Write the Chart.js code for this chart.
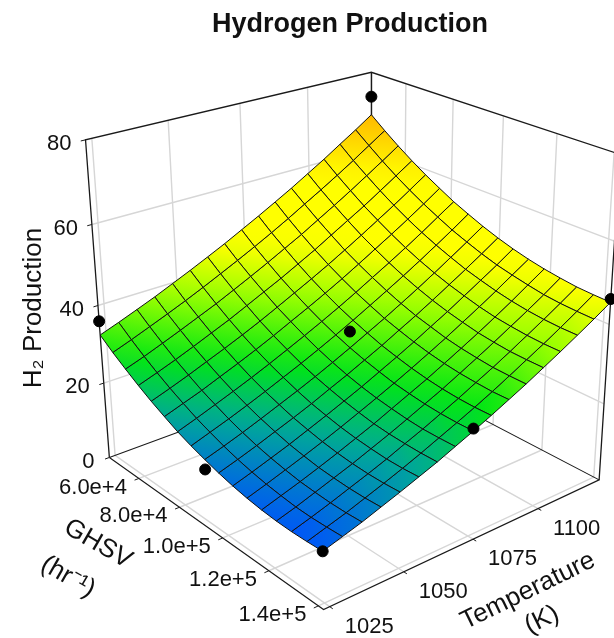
<!DOCTYPE html>
<html>
<head>
<meta charset="utf-8">
<title>Hydrogen Production</title>
<script src="https://cdn.jsdelivr.net/npm/chart.js@4"></script>
<style>
  body { margin: 0; background: #fff; overflow: hidden; }
  canvas { display: block; filter: blur(0.4px); }
</style>
</head>
<body>
<canvas id="surface" width="614" height="638"></canvas>
<script>
const tempTicks = [1025, 1050, 1075, 1100];
const ghsvTicks = [60000, 80000, 100000, 120000, 140000];
const ghsvLabels = ['6.0e+4', '8.0e+4', '1.0e+5', '1.2e+5', '1.4e+5'];
const zTicks = [0, 20, 40, 60, 80];
const tempRange = [1023, 1125];
const ghsvRange = [44600, 142000];
const zRange = [0, 80];

// surface: one row per temperature, one column per GHSV
const meshTemp = [1023, 1029.4, 1035.8, 1042.1, 1048.5, 1054.9, 1061.3, 1067.6, 1074, 1080.4, 1086.8, 1093.1, 1099.5, 1105.9, 1112.3, 1118.6, 1125];
const meshGhsv = [44600, 50700, 56800, 62900, 68950, 75050, 81100, 87200, 93300, 99400, 105500, 111550, 117650, 123700, 129800, 135900, 142000];
const meshZ = [
  [32.5, 29.9, 27.6, 25.4, 23.4, 21.6, 19.9, 18.5, 17.3, 16.2, 15.3, 14.6, 14.1, 13.8, 13.7, 13.8, 14.0],
  [34.2, 31.6, 29.2, 27.0, 25.0, 23.2, 21.5, 20.1, 18.8, 17.7, 16.8, 16.1, 15.6, 15.2, 15.1, 15.2, 15.4],
  [36.0, 33.4, 31.0, 28.7, 26.7, 24.8, 23.2, 21.7, 20.4, 19.3, 18.4, 17.7, 17.1, 16.8, 16.6, 16.6, 16.8],
  [37.8, 35.2, 32.8, 30.5, 28.5, 26.6, 24.9, 23.4, 22.1, 21.0, 20.0, 19.3, 18.7, 18.4, 18.2, 18.2, 18.4],
  [39.8, 37.1, 34.7, 32.4, 30.3, 28.4, 26.7, 25.2, 23.9, 22.7, 21.8, 21.0, 20.4, 20.0, 19.8, 19.8, 20.0],
  [41.8, 39.1, 36.6, 34.3, 32.2, 30.3, 28.6, 27.1, 25.7, 24.5, 23.6, 22.8, 22.2, 21.8, 21.5, 21.5, 21.7],
  [43.9, 41.2, 38.7, 36.4, 34.2, 32.3, 30.6, 29.0, 27.6, 26.5, 25.5, 24.7, 24.0, 23.6, 23.4, 23.3, 23.4],
  [46.0, 43.3, 40.8, 38.5, 36.3, 34.4, 32.6, 31.0, 29.6, 28.4, 27.4, 26.6, 26.0, 25.5, 25.2, 25.2, 25.3],
  [48.3, 45.5, 43.0, 40.6, 38.5, 36.5, 34.7, 33.1, 31.7, 30.5, 29.5, 28.6, 28.0, 27.5, 27.2, 27.1, 27.2],
  [50.6, 47.8, 45.3, 42.9, 40.7, 38.7, 36.9, 35.3, 33.9, 32.6, 31.6, 30.7, 30.0, 29.5, 29.2, 29.1, 29.2],
  [53.0, 50.2, 47.6, 45.2, 43.0, 41.0, 39.2, 37.6, 36.1, 34.9, 33.8, 32.9, 32.2, 31.7, 31.4, 31.2, 31.3],
  [55.4, 52.7, 50.1, 47.7, 45.4, 43.4, 41.6, 39.9, 38.4, 37.1, 36.1, 35.1, 34.4, 33.9, 33.5, 33.4, 33.4],
  [58.0, 55.2, 52.6, 50.2, 47.9, 45.9, 44.0, 42.3, 40.8, 39.5, 38.4, 37.5, 36.7, 36.2, 35.8, 35.7, 35.7],
  [60.6, 57.8, 55.2, 52.7, 50.5, 48.4, 46.5, 44.8, 43.3, 42.0, 40.9, 39.9, 39.1, 38.6, 38.2, 38.0, 38.0],
  [63.4, 60.5, 57.9, 55.4, 53.1, 51.0, 49.1, 47.4, 45.9, 44.5, 43.4, 42.4, 41.6, 41.0, 40.6, 40.4, 40.4],
  [66.1, 63.3, 60.6, 58.1, 55.8, 53.7, 51.8, 50.0, 48.5, 47.1, 45.9, 45.0, 44.2, 43.5, 43.1, 42.9, 42.8],
  [69.0, 66.1, 63.4, 60.9, 58.6, 56.5, 54.5, 52.8, 51.2, 49.8, 48.6, 47.6, 46.8, 46.2, 45.7, 45.5, 45.4]
];

const dotTemp = [1023, 1125, 1125, 1074, 1023, 1023, 1074];
const dotGhsv = [44600, 44600, 142000, 93300, 142000, 93300, 142000];
const dotZ = [36, 73.7, 46.2, 35.8, 14, 14.8, 27.8];

const colorZ = [13, 22, 29, 38, 46, 58, 69];
const colorRGB = [[0, 80, 255], [0, 170, 150], [0, 230, 20], [150, 255, 0], [255, 255, 0], [255, 255, 0], [255, 185, 0]];

// picture position of the box corners, used to fit the camera
const cornerBox = [[0,0,0],[0,0,1],[1,0,0],[1,0,1],[1,1,0],[1,1,1],[0,1,0]];
const cornerPx = [[108,459],[85,143],[376,366],[376,72],[604,485],[626,154],[329,617]];

function solve(A, b) {
  const n = b.length;
  for (let i = 0; i < n; i++) {
    let m = i;
    for (let r = i + 1; r < n; r++) if (Math.abs(A[r][i]) > Math.abs(A[m][i])) m = r;
    [A[i], A[m]] = [A[m], A[i]];
    [b[i], b[m]] = [b[m], b[i]];
    for (let r = i + 1; r < n; r++) {
      const f = A[r][i] / A[i][i];
      for (let c = i; c < n; c++) A[r][c] -= f * A[i][c];
      b[r] -= f * b[i];
    }
  }
  const x = new Array(n).fill(0);
  for (let i = n - 1; i >= 0; i--) {
    let s = b[i];
    for (let c = i + 1; c < n; c++) s -= A[i][c] * x[c];
    x[i] = s / A[i][i];
  }
  return x;
}

function fitCamera() {
  const rows = [], rhs = [];
  cornerBox.forEach((c, k) => {
    const [x, y] = cornerPx[k];
    rows.push([c[0], c[1], c[2], 1, 0, 0, 0, 0, -x * c[0], -x * c[1], -x * c[2]]);
    rhs.push(x);
    rows.push([0, 0, 0, 0, c[0], c[1], c[2], 1, -y * c[0], -y * c[1], -y * c[2]]);
    rhs.push(y);
  });
  const A = [], b = [];
  for (let i = 0; i < 11; i++) {
    A.push([]);
    for (let j = 0; j < 11; j++) A[i].push(rows.reduce((s, r) => s + r[i] * r[j], 0));
    b.push(rows.reduce((s, r, k) => s + r[i] * rhs[k], 0));
  }
  return solve(A, b);
}

const cam = fitCamera();

function project(t, g, z) {
  const a = (t - tempRange[0]) / (tempRange[1] - tempRange[0]);
  const b = (g - ghsvRange[0]) / (ghsvRange[1] - ghsvRange[0]);
  const c = (z - zRange[0]) / (zRange[1] - zRange[0]);
  const w = cam[8] * a + cam[9] * b + cam[10] * c + 1;
  return {
    x: (cam[0] * a + cam[1] * b + cam[2] * c + cam[3]) / w,
    y: (cam[4] * a + cam[5] * b + cam[6] * c + cam[7]) / w
  };
}

function zColor(z) {
  let k = 0;
  while (k < colorZ.length - 2 && z > colorZ[k + 1]) k++;
  const f = Math.min(1, Math.max(0, (z - colorZ[k]) / (colorZ[k + 1] - colorZ[k])));
  const c = colorRGB[k].map((v, n) => Math.round(v + (colorRGB[k + 1][n] - v) * f));
  return `rgb(${c[0]},${c[1]},${c[2]})`;
}

function lineSet(points, color, width, order) {
  return { data: points, showLine: true, fill: false, borderColor: color, borderWidth: width,
           pointRadius: 0, tension: 0, clip: false, order: order };
}

const datasets = [];
const [t0, t1] = tempRange, [g0, g1] = ghsvRange;
const gridGrey = '#d6d6d6', boxBlack = '#1a1a1a';

// wall and floor grid lines
tempTicks.forEach(t => {
  datasets.push(lineSet([project(t, g1, 0), project(t, g0, 0), project(t, g0, 80)], gridGrey, 1.4, 3000));
});
ghsvTicks.forEach(g => {
  datasets.push(lineSet([project(t0, g, 0), project(t1, g, 0), project(t1, g, 80)], gridGrey, 1.4, 3000));
});
zTicks.slice(1, 4).forEach(z => {
  datasets.push(lineSet([project(t0, g0, z), project(t1, g0, z), project(t1, g1, z)], gridGrey, 1.4, 3000));
});

// box outline
datasets.push(lineSet([project(t0, g0, 0), project(t0, g0, 80), project(t1, g0, 80), project(t1, g1, 80), project(t1, g1, 0)], boxBlack, 1.3, 2000));
datasets.push(lineSet([project(t1, g0, 80), project(t1, g0, 0)], boxBlack, 1.3, 2000));
datasets.push(lineSet([project(t0, g0, 0), project(t1, g0, 0), project(t1, g1, 0), project(t0, g1, 0), project(t0, g0, 0)], boxBlack, 1.1, 2000));

// tick marks
zTicks.forEach(z => datasets.push(lineSet([project(t0, g0, z), project(t0 - 1.5, g0, z)], boxBlack, 1, 2000)));
ghsvTicks.forEach(g => datasets.push(lineSet([project(t0, g, 0), project(t0 - 1.5, g, 0)], boxBlack, 1, 2000)));
tempTicks.forEach(t => datasets.push(lineSet([project(t, g1, 0), project(t, g1 + 1200, 0)], boxBlack, 1, 2000)));

// surface cells
for (let i = 0; i < meshTemp.length - 1; i++) {
  for (let j = 0; j < meshGhsv.length - 1; j++) {
    const corners = [[i, j], [i + 1, j], [i + 1, j + 1], [i, j + 1], [i, j]];
    const zs = corners.slice(0, 4).map(c => meshZ[c[0]][c[1]]);
    const pts = corners.map(c => project(meshTemp[c[0]], meshGhsv[c[1]], meshZ[c[0]][c[1]]));
    const lo = zs.indexOf(Math.min(...zs)), hi = zs.indexOf(Math.max(...zs));
    datasets.push({
      data: pts, showLine: true, fill: 'shape', borderColor: '#111', borderWidth: 1,
      pointRadius: 0, tension: 0, clip: false, order: 1000,
      backgroundColor: ctx => {
        const g = ctx.chart.ctx.createLinearGradient(pts[lo].x, pts[lo].y, pts[hi].x, pts[hi].y);
        g.addColorStop(0, zColor(zs[lo]));
        g.addColorStop(1, zColor(zs[hi]));
        return g;
      }
    });
  }
}

// design points
datasets.push({
  data: dotTemp.map((t, k) => project(t, dotGhsv[k], dotZ[k])),
  showLine: false, pointRadius: 5.5, backgroundColor: '#000', borderColor: '#000', clip: false, order: 1
});

const axisText = {
  id: 'axisText',
  afterDatasetsDraw(chart) {
    const { ctx, scales: { x, y } } = chart;
    const text = (s, px, py, align, rot) => {
      ctx.save();
      ctx.translate(px, py);
      ctx.rotate((rot || 0) * Math.PI / 180);
      ctx.textAlign = align;
      ctx.textBaseline = 'middle';
      ctx.fillText(s, 0, 0);
      ctx.restore();
    };
    const at = p => [x.getPixelForValue(p.x), y.getPixelForValue(p.y)];
    ctx.fillStyle = '#111';
    ctx.font = '22px "Liberation Sans"';
    zTicks.forEach(z => {
      const [px, py] = at(project(t0, g0, z));
      text(String(z), px - (z === 0 ? 15 : 14), py + 4, 'right');
    });
    ghsvTicks.forEach((g, k) => {
      const [px, py] = at(project(t0, g, 0));
      text(ghsvLabels[k], px - 12, py + 9, 'right');
    });
    tempTicks.forEach(t => {
      const [px, py] = at(project(t, g1, 0));
      text(String(t), px + 15, py + 20, 'left');
    });
    ctx.font = '26px "Liberation Sans"';
    text('H₂ Production', 34, 308, 'center', -90);
    text('GHSV', 98, 544, 'center', 30);
    text('(hr⁻¹)', 68, 577, 'center', 30);
    text('Temperature', 528, 591, 'center', -26);
    text('(K)', 542, 620, 'center', -26);
  }
};

new Chart(document.getElementById('surface'), {
  type: 'scatter',
  data: { datasets: datasets },
  plugins: [axisText],
  options: {
    responsive: false,
    animation: false,
    events: [],
    layout: { padding: { left: 86 } },
    scales: {
      x: { type: 'linear', min: 86, max: 614, display: false },
      y: { type: 'linear', min: 48, max: 638, reverse: true, display: false }
    },
    plugins: {
      legend: { display: false },
      tooltip: { enabled: false },
      filler: { drawTime: 'beforeDatasetDraw' },
      title: {
        display: true,
        text: 'Hydrogen Production',
        color: '#111',
        font: { family: '"Liberation Sans"', size: 27, weight: 'bold' },
        padding: { top: 8, bottom: 7.6 }
      }
    }
  }
});
</script>
</body>
</html>
